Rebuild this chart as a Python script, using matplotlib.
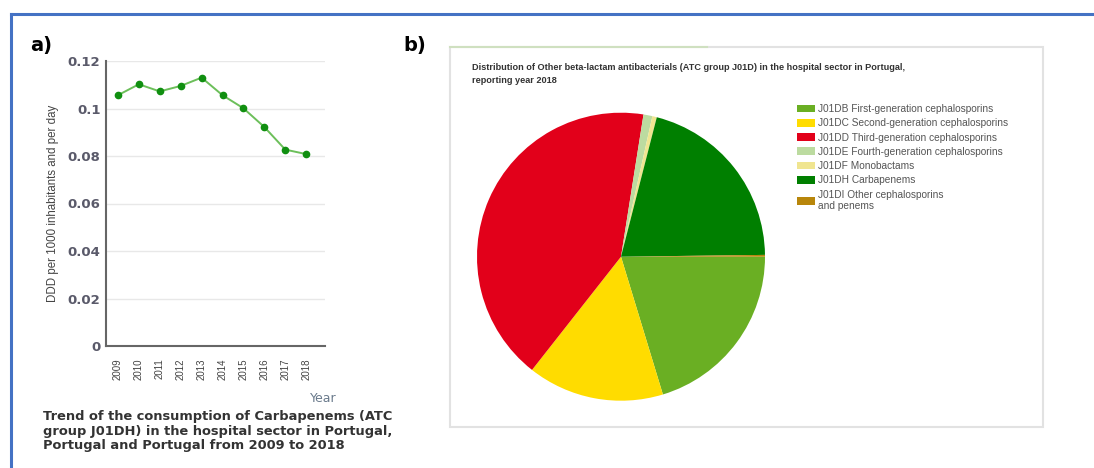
import matplotlib
matplotlib.use("Agg")
import matplotlib.pyplot as plt
from matplotlib.lines import Line2D
from matplotlib.patches import Rectangle, Patch

W, H = 1094, 468

# carbapenem consumption, DDD per 1000 inhabitants and per day
years = [2009, 2010, 2011, 2012, 2013, 2014, 2015, 2016, 2017, 2018]
ddd = [0.1056, 0.1102, 0.1072, 0.1095, 0.1130, 0.1056, 0.1001, 0.0922, 0.0827, 0.0808]

# J01D breakdown for 2018 (share of total, %)
groups = ["J01DB First-generation cephalosporins",
          "J01DC Second-generation cephalosporins",
          "J01DD Third-generation cephalosporins",
          "J01DE Fourth-generation cephalosporins",
          "J01DF Monobactams",
          "J01DH Carbapenems",
          "J01DI Other cephalosporins\nand penems"]
shares = [20.3, 15.3, 41.9, 1.0, 0.5, 20.8, 0.2]
group_colors = ["#6aaf23", "#ffdc00", "#e2001a", "#bcdba0", "#f0e590", "#007f00", "#b8860b"]

narrow = "Liberation Sans"


def fx(x):
    return x / W


def fy(y):
    return 1 - y / H


def box(x0, y0, x1, y1):
    return [fx(x0), fy(y1), fx(x1) - fx(x0), fy(y0) - fy(y1)]


fig = plt.figure(figsize=(W / 100, H / 100), dpi=100)

# blue frame round the whole panel
fig.add_artist(Line2D([fx(11), 1], [fy(14), fy(14)], color="#4472c4", lw=2.2))
fig.add_artist(Line2D([fx(11), fx(11)], [fy(14), 0], color="#4472c4", lw=2.2))

fig.text(fx(30), fy(46), "a)", fontsize=14, fontweight="bold", va="center")
fig.text(fx(403), fy(46), "b)", fontsize=14, fontweight="bold", va="center")

# --- a) line chart ---
ax = fig.add_axes(box(106, 61, 325, 346))
ax.plot(years, ddd, color="#6cbf5a", lw=1.4, marker="o", markersize=4.5,
        markerfacecolor="#108f10", markeredgecolor="#108f10", zorder=3)
ax.set_xlim(2008.43, 2018.9)
ax.set_ylim(0, 0.12)
ax.set_yticks([0, 0.02, 0.04, 0.06, 0.08, 0.1, 0.12])
ax.set_yticklabels(["0", "0.02", "0.04", "0.06", "0.08", "0.1", "0.12"])
ax.set_xticks(years)
ax.set_xticklabels([str(y) for y in years], rotation=90, family=narrow,
                   fontsize=7, color="#444444")
ax.tick_params(axis="y", length=0, pad=4, labelsize=9.5, labelcolor="#5a5a6a")
ax.tick_params(axis="x", length=0, pad=9)
for lab in ax.get_yticklabels():
    lab.set_fontweight("bold")
ax.grid(axis="y", color="#e8e8e8", lw=1)
ax.set_axisbelow(True)
for side in ("top", "right"):
    ax.spines[side].set_visible(False)
for side in ("left", "bottom"):
    ax.spines[side].set_color("#666666")
    ax.spines[side].set_linewidth(1.5)
ax.set_ylabel("DDD per 1000 inhabitants and per day", family=narrow,
              fontsize=8.3, color="#444444", labelpad=6)

fig.text(fx(323), fy(398), "Year", ha="center", va="center", fontsize=9,
         color="#6a7a8c")
fig.text(fx(43), fy(410), "Trend of the consumption of Carbapenems (ATC\n"
         "group J01DH) in the hospital sector in Portugal,\n"
         "Portugal and Portugal from 2009 to 2018",
         ha="left", va="top", fontsize=9.4, fontweight="bold", color="#333333",
         linespacing=1.17)

# --- b) pie chart ---
fig.add_artist(Rectangle((fx(450), fy(427)), fx(1043) - fx(450), fy(47) - fy(427),
                         fill=False, edgecolor="#e2e2e2", lw=1.5))
fig.add_artist(Line2D([fx(450), fx(707)], [fy(47), fy(47)], color="#cfe0c0", lw=1.5))

fig.text(fx(472), fy(63), "Distribution of Other beta-lactam antibacterials (ATC group J01D) "
         "in the hospital sector in Portugal,\nreporting year 2018",
         ha="left", va="top", fontsize=6.6, fontweight="bold", family=narrow,
         color="#333333", linespacing=1.55)

pax = fig.add_axes(box(621 - 144, 256.7 - 144, 621 + 144, 256.7 + 144))
pax.pie(shares, colors=group_colors, startangle=0, counterclock=False,
        radius=1, wedgeprops=dict(linewidth=0))
pax.set_xlim(-1, 1)
pax.set_ylim(-1, 1)
pax.set_aspect("equal")
pax.axis("off")

handles = [Patch(facecolor=c, edgecolor="none") for c in group_colors]
fig.legend(handles, groups, loc="upper left", bbox_to_anchor=(fx(797), fy(104)),
           frameon=False, prop=dict(family=narrow, size=7.3),
           labelcolor="#555555", handlelength=1.75, handleheight=0.8,
           handletextpad=0.35, labelspacing=0.42, borderpad=0, borderaxespad=0)

fig.savefig("out.png", dpi=100)
